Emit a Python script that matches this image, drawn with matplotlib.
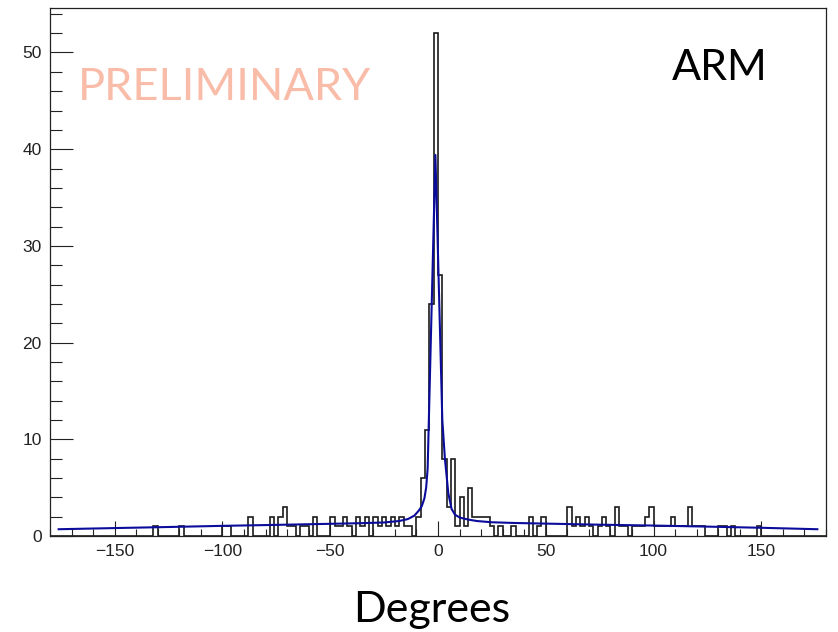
import numpy as np
import matplotlib
matplotlib.use("Agg")
import matplotlib.pyplot as plt
from matplotlib.ticker import MultipleLocator

# ARM histogram: 2 degree bins from -180 to 180, only the filled bins listed
hit_left = [-132, -120, -100, -98, -88, -78, -74, -72, -70, -68, -64, -62, -58,
            -50, -48, -46, -44, -42, -38, -36, -34, -30, -28, -26, -24, -22, -20,
            -18, -16, -14, -10, -8, -6, -4, -2, 0, 2, 4, 6, 8, 10, 12, 14, 16, 18,
            20, 22, 24, 28, 34, 42, 46, 48, 60, 62, 64, 66, 68, 70, 74, 76, 78, 82,
            84, 86, 90, 92, 94, 96, 98, 100, 102, 104, 106, 108, 110, 112, 114,
            116, 118, 120, 122, 130, 132, 136, 148]
hit_count = [1, 1, 1, 1, 2, 2, 2, 3, 1, 1, 1, 1, 2,
             2, 1, 1, 2, 1, 2, 1, 2, 2, 1, 2, 1, 2, 1,
             2, 1, 1, 2, 6, 11, 24, 52, 27, 8, 3, 8, 1, 4, 1, 5, 2, 2,
             2, 2, 1, 1, 1, 2, 1, 2, 3, 1, 2, 1, 2, 1, 1, 2, 1, 3,
             1, 1, 1, 1, 1, 2, 3, 1, 1, 1, 1, 2, 1, 1, 1,
             3, 1, 1, 1, 1, 1, 1, 1]

# fitted curve (peak + flat background), sampled points
fit_x = [-176, -150, -125, -100, -75, -50, -35, -25, -18, -14, -11, -9, -7.5,
         -6.3, -5.5, -4.8, -4.3, -1.2, 2.0, 3.2, 4.8, 6.3, 7.9, 10.2, 14, 18,
         25, 35, 50, 75, 100, 125, 150, 176]
fit_y = [0.70, 0.82, 0.93, 1.05, 1.15, 1.26, 1.33, 1.40, 1.55, 1.75, 2.1, 2.6,
         3.1, 3.9, 5.0, 7.0, 11.5, 39.4, 12.0, 8.0, 4.4, 2.8, 2.2, 1.9, 1.7,
         1.55, 1.42, 1.35, 1.28, 1.17, 1.08, 0.97, 0.85, 0.70]

edges = np.arange(-180, 182, 2)
counts = np.zeros(len(edges) - 1)
counts[(np.array(hit_left) + 180) // 2] = hit_count

fig = plt.figure(figsize=(8.38, 6.32), dpi=100)
ax = fig.add_axes([50 / 838, 1 - 536 / 632, 776 / 838, 528 / 632])

ax.stairs(counts, edges, color="#1a1a1a", linewidth=1.2)
ax.plot(fit_x, fit_y, color="#0c0c9c", linewidth=1.5)

ax.set_xlim(-180, 180)
ax.set_ylim(0, 54.6)

ax.xaxis.set_major_locator(MultipleLocator(50))
ax.xaxis.set_minor_locator(MultipleLocator(10))
ax.yaxis.set_major_locator(MultipleLocator(10))
ax.yaxis.set_minor_locator(MultipleLocator(2))

ax.tick_params(which="both", direction="in", top=False, right=False,
               width=0.8, colors="#222222", labelsize=12.5)
ax.tick_params(axis="x", which="major", length=11, pad=6)
ax.tick_params(axis="x", which="minor", length=5)
ax.tick_params(axis="y", which="major", length=16.5, pad=6)
ax.tick_params(axis="y", which="minor", length=8.5)
for lab in ax.get_xticklabels() + ax.get_yticklabels():
    lab.set_fontfamily("Liberation Sans")

for sp in ax.spines.values():
    sp.set_linewidth(0.9)
    sp.set_color("#222222")

fig.text(78 / 838, 1 - 100 / 632, "PRELIMINARY", color="#f9bca8",
         fontsize=32.5, family="Lato", ha="left", va="baseline")
fig.text(672 / 838, 1 - 80 / 632, "ARM", color="black",
         fontsize=31, family="Lato", ha="left", va="baseline")
fig.text(432 / 838, 1 - 622 / 632, "Degrees", color="black",
         fontsize=31, family="Lato", ha="center", va="baseline")

fig.savefig("out.png", dpi=100)
